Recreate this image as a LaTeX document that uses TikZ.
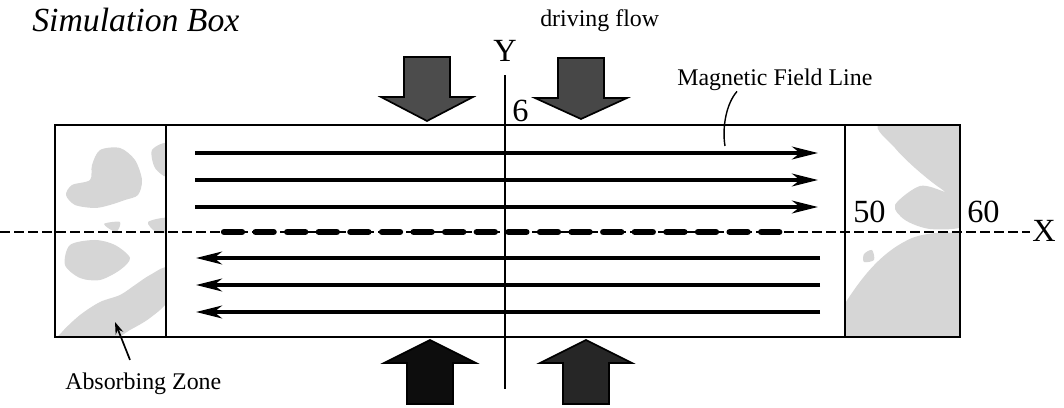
\documentclass[tikz,border=0pt]{standalone}
\usepackage{fontspec}
\setmainfont{Liberation Serif}
\usetikzlibrary{arrows.meta, positioning, calc}

\begin{document}
\begin{tikzpicture}[
  fieldline/.style={line width=2.4pt, -{Stealth[length=6.5mm, width=3.2mm, inset=2mm]}},
  labeltext/.style={font=\fontsize{17}{20}\selectfont, inner sep=0pt},
  axistext/.style={font=\fontsize{23}{26}\selectfont, inner sep=0pt},
  zonepatch/.style={fill=gray!32, draw=none}]

\useasboundingbox (0,0) rectangle (26.6,10.2);

% Absorbing zones (mottled texture)
\begin{scope}
  \clip (1.375,1.775) rectangle (4.15,7.075);
  \fill[zonepatch] plot[smooth cycle] coordinates {(2.5,6.45) (3.0,6.5) (3.375,6.2) (3.55,5.7) (3.45,5.325) (3.125,5.2) (2.75,5.075) (2.375,5.0) (1.875,5.075) (1.65,5.325) (1.8,5.575) (2.25,5.7) (2.3,6.075)};
  \fill[zonepatch] plot[smooth cycle] coordinates {(3.8,6.45) (4.2,6.6) (4.2,5.8) (3.875,6.0)};
  \fill[zonepatch] plot[smooth cycle] coordinates {(2.6,4.6) (3.0,4.65) (2.9,4.4)};
  \fill[zonepatch] plot[smooth cycle] coordinates {(3.7,4.65) (4.2,4.75) (4.2,4.4) (3.9,4.4)};
  \fill[zonepatch] plot[smooth cycle] coordinates {(1.75,4.075) (2.375,4.2) (2.875,4.075) (3.25,3.75) (3.0,3.45) (2.5,3.2) (2.0,3.25) (1.625,3.575)};
  \fill[zonepatch] plot[smooth cycle] coordinates {(1.55,1.9) (2.0,2.325) (2.5,2.65) (3.0,2.825) (3.375,3.075) (3.75,3.325) (4.2,3.5) (4.2,2.7) (3.75,2.25) (3.25,1.95) (2.75,1.7) (1.5,1.7)};
\end{scope}
\begin{scope}
  \clip (21.125,1.775) rectangle (24.0,7.075);
  \fill[zonepatch] plot[smooth cycle] coordinates {(22.0,7.1) (24.1,7.1) (24.1,5.2) (23.5,5.5) (22.875,6.0) (22.375,6.5)};
  \fill[zonepatch] plot[smooth cycle] coordinates {(22.375,5.075) (23.0,5.55) (23.625,5.4) (24.1,5.2) (24.1,4.55) (23.25,4.475) (22.625,4.7)};
  \fill[zonepatch] plot[smooth cycle] coordinates {(21.6,3.85) (21.8,3.95) (21.85,3.7) (21.6,3.65)};
  \fill[zonepatch] (21.1,2.575) .. controls (21.5,3.2) and (22.0,3.9) .. (22.8,4.25)
    .. controls (23.2,4.4) and (23.7,4.4) .. (24.1,4.375) -- (24.1,1.7) -- (21.1,1.7) -- cycle;
\end{scope}

% Simulation box and zone borders
\draw[line width=1.8pt] (1.375,1.775) rectangle (24.0,7.075);
\draw[line width=1.8pt] (4.15,1.775) -- (4.15,7.075);
\draw[line width=1.8pt] (21.125,1.775) -- (21.125,7.075);

% Axes
\draw[line width=0.8pt, dash pattern=on 2.4mm off 1.1mm] (0,4.4) -- (25.75,4.4);
\draw[line width=1pt] (12.625,0.475) -- (12.625,8.325);

% Neutral line
\draw[line width=4.5pt, line cap=round, dash pattern=on 4.5mm off 3.4mm] (5.6,4.4) -- (19.75,4.4);

% Field lines
\foreach \y in {6.375,5.7,5.025}
  \draw[fieldline] (4.875,\y) -- (20.45,\y);
\foreach \y in {3.75,3.075,2.4}
  \draw[fieldline] (20.5,\y) -- (4.9,\y);

% Driving flow arrows
\foreach \cx/\ta/\sh/\ti/\tone in {10.675/8.775/7.775/7.175/70, 14.525/8.75/7.75/7.225/72,
                                   10.75/0.1/1.125/1.7/95, 14.65/0.1/1.125/1.7/85}
  \filldraw[fill=black!\tone, draw=black, line width=1.2pt]
    (\cx-0.575,\ta) -- (\cx+0.575,\ta) -- (\cx+0.575,\sh) -- (\cx+1.15,\sh)
    -- (\cx,\ti) -- (\cx-1.15,\sh) -- (\cx-0.575,\sh) -- cycle;

% Labels
\node[font=\fontsize{24}{28}\selectfont\itshape, inner sep=0pt, anchor=base west] (title) at (0.8,9.4) {Simulation Box};
\node[labeltext, anchor=base west] (flowlabel) at (13.5,9.525) {driving flow};
\node[axistext, anchor=base] (ylabel) at (12.625,8.65) {Y};
\node[axistext, anchor=base west] (ymax) at (12.8,7.15) {6};
\node[axistext, anchor=base west] (xzone) at (21.325,4.625) {50};
\node[axistext, anchor=base west] (xmax) at (24.175,4.625) {60};
\node[axistext, anchor=base west] (xlabel) at (25.8,4.15) {X};

% Pointers
\node[labeltext, anchor=base west] (mflabel) at (16.925,8.05) {Magnetic Field Line};
\coordinate (mfpoint) at (18.125,6.55);
\draw[line width=1pt] ($(mflabel.south west)+(1.5,0)$) .. controls (18.15,7.6) and (18.05,7.0) .. (mfpoint);

\node[labeltext, anchor=base west] (azlabel) at (1.625,0.45) {Absorbing Zone};
\coordinate (aztip) at (2.875,2.15);
\draw[line width=1.2pt, -{Stealth[length=3mm, width=2mm]}] ($(azlabel.north west)+(1.625,0.33)$) -- (aztip);

\end{tikzpicture}
\end{document}
